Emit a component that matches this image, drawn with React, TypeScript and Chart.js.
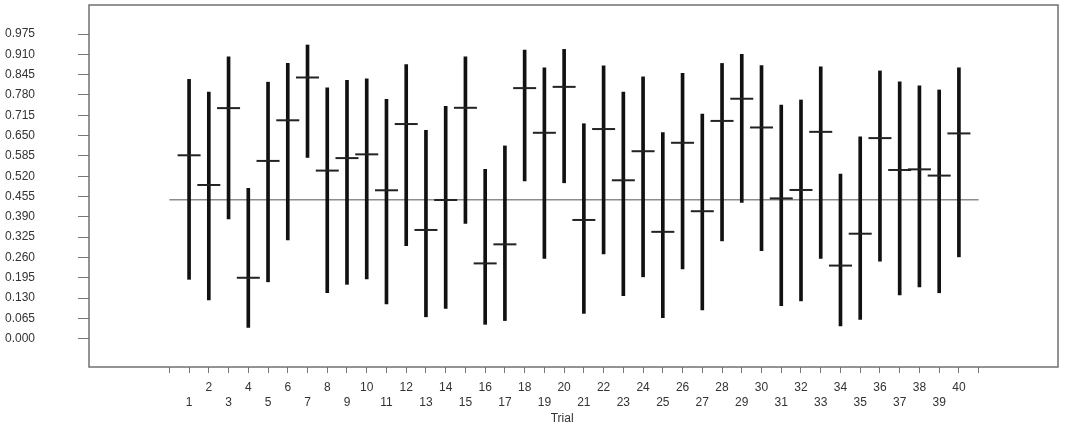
import React, { useEffect, useRef } from 'react';
import { Chart, registerables } from 'chart.js';

Chart.register(...registerables);

const trials = [1, 2, 3, 4, 5, 6, 7, 8, 9, 10, 11, 12, 13, 14, 15, 16, 17, 18, 19, 20, 21, 22, 23, 24, 25, 26, 27, 28, 29, 30, 31, 32, 33, 34, 35, 36, 37, 38, 39, 40];
const lows = [0.190, 0.124, 0.383, 0.036, 0.182, 0.316, 0.580, 0.147, 0.174, 0.191, 0.111, 0.298, 0.070, 0.097, 0.369, 0.046, 0.058, 0.505, 0.257, 0.499, 0.081, 0.271, 0.138, 0.198, 0.067, 0.223, 0.092, 0.313, 0.436, 0.282, 0.106, 0.121, 0.257, 0.041, 0.062, 0.248, 0.140, 0.166, 0.147, 0.262];
const highs = [0.830, 0.789, 0.902, 0.481, 0.821, 0.881, 0.940, 0.803, 0.827, 0.832, 0.766, 0.877, 0.667, 0.744, 0.902, 0.542, 0.617, 0.924, 0.867, 0.926, 0.688, 0.873, 0.789, 0.838, 0.660, 0.849, 0.719, 0.881, 0.910, 0.874, 0.748, 0.764, 0.870, 0.527, 0.646, 0.857, 0.822, 0.809, 0.796, 0.867];
const means = [0.587, 0.492, 0.738, 0.195, 0.569, 0.699, 0.836, 0.538, 0.578, 0.590, 0.475, 0.687, 0.348, 0.444, 0.739, 0.241, 0.302, 0.802, 0.659, 0.806, 0.380, 0.671, 0.507, 0.600, 0.342, 0.627, 0.408, 0.697, 0.768, 0.676, 0.449, 0.476, 0.662, 0.234, 0.336, 0.642, 0.540, 0.542, 0.522, 0.657];
const referenceValue = 0.445;
const referenceSpan = [0, 41];
const yTickValues = [0, 0.065, 0.13, 0.195, 0.26, 0.325, 0.39, 0.455, 0.52, 0.585, 0.65, 0.715, 0.78, 0.845, 0.91, 0.975];
const xTickPositions = [0, 1, 2, 3, 4, 5, 6, 7, 8, 9, 10, 11, 12, 13, 14, 15, 16, 17, 18, 19, 20, 21, 22, 23, 24, 25, 26, 27, 28, 29, 30, 31, 32, 33, 34, 35, 36, 37, 38, 39, 40, 41];
const xAxisTitle = 'Trial';
const xTitlePosition = 19.9;

const FONT = 'Arial, "Liberation Sans", Helvetica, sans-serif';

const boxPlugin = {
  id: 'boxAndTitle',
  afterDraw(chart: any) {
    const { ctx, chartArea } = chart;
    ctx.save();
    ctx.strokeStyle = '#707070';
    ctx.lineWidth = 1.5;
    ctx.strokeRect(chartArea.left, chartArea.top, chartArea.right - chartArea.left, chartArea.bottom - chartArea.top);
    ctx.fillStyle = '#333';
    ctx.font = `12px ${FONT}`;
    ctx.textAlign = 'center';
    ctx.textBaseline = 'middle';
    ctx.fillText(xAxisTitle, chart.scales.x.getPixelForValue(xTitlePosition), 419);
    ctx.restore();
  },
};

export default function App() {
  const ref = useRef<HTMLCanvasElement | null>(null);

  useEffect(() => {
    document.body.style.margin = '0';
    const canvas = ref.current;
    if (!canvas) return;
    const chart = new Chart(canvas, {
      type: 'bar',
      data: {
        datasets: [
          {
            type: 'scatter',
            label: 'mean',
            data: trials.map((t, i) => ({ x: t, y: means[i] })),
            pointStyle: 'line',
            pointRadius: 11.5,
            pointHoverRadius: 11.5,
            borderColor: '#222',
            backgroundColor: '#222',
            pointBorderWidth: 2,
            borderWidth: 2,
            order: 1,
          } as any,
          {
            type: 'bar',
            label: 'range',
            data: trials.map((t, i) => ({ x: t, y: [lows[i], highs[i]] })),
            backgroundColor: '#111',
            borderWidth: 0,
            barThickness: 3,
            order: 2,
          } as any,
          {
            type: 'line',
            label: 'reference',
            data: referenceSpan.map((x) => ({ x, y: referenceValue })),
            borderColor: '#8c8c8c',
            borderWidth: 1.5,
            pointRadius: 0,
            fill: false,
            order: 3,
          } as any,
        ],
      },
      options: {
        animation: false,
        responsive: true,
        maintainAspectRatio: false,
        events: [],
        layout: { autoPadding: false, padding: { top: 5, right: 8, left: 5, bottom: 0 } },
        plugins: {
          legend: { display: false },
          tooltip: { enabled: false },
          title: { display: false },
        },
        scales: {
          x: {
            type: 'linear',
            min: -4.07,
            max: 45.02,
            offset: false,
            afterBuildTicks: (scale: any) => {
              scale.ticks = xTickPositions.map((v) => ({ value: v }));
            },
            afterFit: (scale: any) => {
              scale.height = 59;
              scale.paddingLeft = 0;
              scale.paddingRight = 0;
            },
            ticks: {
              autoSkip: false,
              maxRotation: 0,
              minRotation: 0,
              padding: 7,
              color: '#333',
              font: { family: FONT, size: 12, lineHeight: 1.275 },
              callback: (value: any) => {
                const v = Number(value);
                if (v < 1 || v > 40) return '';
                return v % 2 === 1 ? ['', String(v)] : String(v);
              },
            },
            grid: {
              offset: false,
              drawOnChartArea: false,
              drawTicks: true,
              tickLength: 6,
              color: '#777',
              lineWidth: 1,
            },
            border: { display: false },
          },
          y: {
            type: 'linear',
            min: -0.0906,
            max: 1.068,
            afterBuildTicks: (scale: any) => {
              scale.ticks = yTickValues.map((v) => ({ value: v }));
            },
            afterFit: (scale: any) => {
              scale.width = 84;
              scale.paddingTop = 0;
              scale.paddingBottom = 0;
            },
            ticks: {
              padding: 0,
              crossAlign: 'far',
              color: '#333',
              font: { family: FONT, size: 12 },
              callback: (value: any) => Number(value).toFixed(3),
            },
            grid: {
              offset: false,
              drawOnChartArea: false,
              drawTicks: true,
              tickLength: 11,
              color: '#777',
              lineWidth: 1,
            },
            border: { display: false },
          },
        },
      } as any,
      plugins: [boxPlugin],
    });
    return () => chart.destroy();
  }, []);

  return (
    <div style={{ position: 'relative', width: 1066, height: 426 }}>
      <canvas ref={ref} />
    </div>
  );
}
